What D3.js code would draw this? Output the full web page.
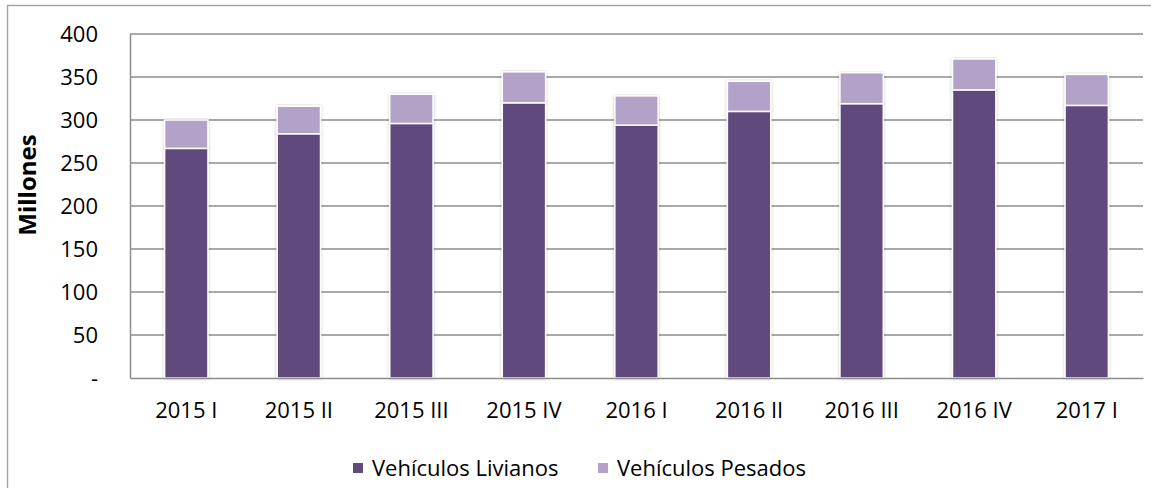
<!DOCTYPE html>
<html lang="es">
<head>
<meta charset="UTF-8">
<title>Vehículos Livianos y Pesados</title>
<script src="https://d3js.org/d3.v7.min.js"></script>
<style>
    body { margin: 0; background: #fff; }
    svg text { font-family: "Open Sans", "Noto Sans", sans-serif; fill: #000; }
</style>
</head>
<body>
<div id="chart"></div>
<script>
    // data (millones)
    const periods = ["2015 I", "2015 II", "2015 III", "2015 IV", "2016 I", "2016 II", "2016 III", "2016 IV", "2017 I"];
    const livianos = [267, 284, 296, 320, 294, 310, 319, 335, 317];
    const pesados = [33, 32, 34, 36, 34, 35, 36, 36, 36];
    const seriesNames = ["Vehículos Livianos", "Vehículos Pesados"];
    const seriesColors = ["#604a7b", "#b3a2c7"];
    const yTicks = [0, 50, 100, 150, 200, 250, 300, 350, 400];

    const W = 1151, H = 488;
    const margin = { top: 34, right: 8, bottom: 110, left: 130 };
    const width = W - margin.left - margin.right,
        height = H - margin.top - margin.bottom;

    const svg = d3.select("#chart").append("svg")
        .attr("width", W).attr("height", H);

    // soft shadow under bars
    const defs = svg.append("defs");
    const f = defs.append("filter").attr("id", "shadow")
        .attr("x", "-20%").attr("y", "-5%").attr("width", "140%").attr("height", "110%");
    f.append("feDropShadow").attr("dx", 0).attr("dy", 0).attr("stdDeviation", 1.8)
        .attr("flood-color", "#000").attr("flood-opacity", 0.25);

    // outer chart border
    svg.append("rect")
        .attr("x", 7.5).attr("y", 5.5).attr("width", W).attr("height", H)
        .attr("fill", "none").attr("stroke", "#a6a6a6").attr("stroke-width", 1.5);

    const g = svg.append("g").attr("transform", `translate(${margin.left},${margin.top})`);

    const table = periods.map((p, i) => ({ period: p, liv: livianos[i], pes: pesados[i] }));
    const stacked = d3.stack().keys(["liv", "pes"])(table);

    const x = d3.scaleBand().domain(periods).range([0, width]).paddingInner(0.615).paddingOuter(0.3075);
    const y = d3.scaleLinear().domain([0, 400]).range([height, 0]);

    // gridlines
    g.append("g")
        .selectAll("line")
        .data(yTicks.filter(d => d > 0))
        .join("line")
        .attr("x1", 0).attr("x2", width)
        .attr("y1", d => y(d)).attr("y2", d => y(d))
        .attr("stroke", "#8c8c8c").attr("stroke-width", 1.5);

    // y axis
    const yAxis = g.append("g")
        .call(d3.axisLeft(y).tickValues(yTicks).tickSize(0).tickPadding(32)
            .tickFormat(d => d === 0 ? "-" : d));
    yAxis.select(".domain").attr("stroke", "#8c8c8c").attr("stroke-width", 1.5);
    yAxis.selectAll("text").attr("font-size", 22).attr("font-family", null);

    // bars
    g.append("g").selectAll("g")
        .data(stacked)
        .join("g")
        .attr("fill", (d, i) => seriesColors[i])
        .selectAll("rect")
        .data(d => d)
        .join("rect")
        .attr("x", d => x(d.data.period))
        .attr("y", d => y(d[1]))
        .attr("width", x.bandwidth())
        .attr("height", d => y(d[0]) - y(d[1]))
        .attr("stroke", "#fff").attr("stroke-width", 1.5)
        .attr("filter", "url(#shadow)");

    // x axis
    const xAxis = g.append("g")
        .attr("transform", `translate(0,${height})`)
        .call(d3.axisBottom(x).tickSize(0).tickPadding(24));
    xAxis.select(".domain").attr("stroke", "#8c8c8c").attr("stroke-width", 1.5);
    xAxis.selectAll("text").attr("font-size", 22).attr("font-family", null);

    // y axis title
    svg.append("text")
        .attr("transform", "translate(36,185) rotate(-90)")
        .attr("text-anchor", "middle")
        .attr("font-size", 24).attr("font-weight", "bold")
        .text("Millones");

    // legend
    const legendX = [353, 598];
    const legend = svg.append("g").selectAll("g")
        .data(seriesNames)
        .join("g")
        .attr("transform", (d, i) => `translate(${legendX[i]},468)`);
    legend.append("rect")
        .attr("x", 0).attr("y", -5).attr("width", 10).attr("height", 10)
        .attr("fill", (d, i) => seriesColors[i]);
    legend.append("text")
        .attr("x", 19).attr("dy", "0.35em")
        .attr("font-size", 22)
        .text(d => d);
</script>
</body>
</html>
